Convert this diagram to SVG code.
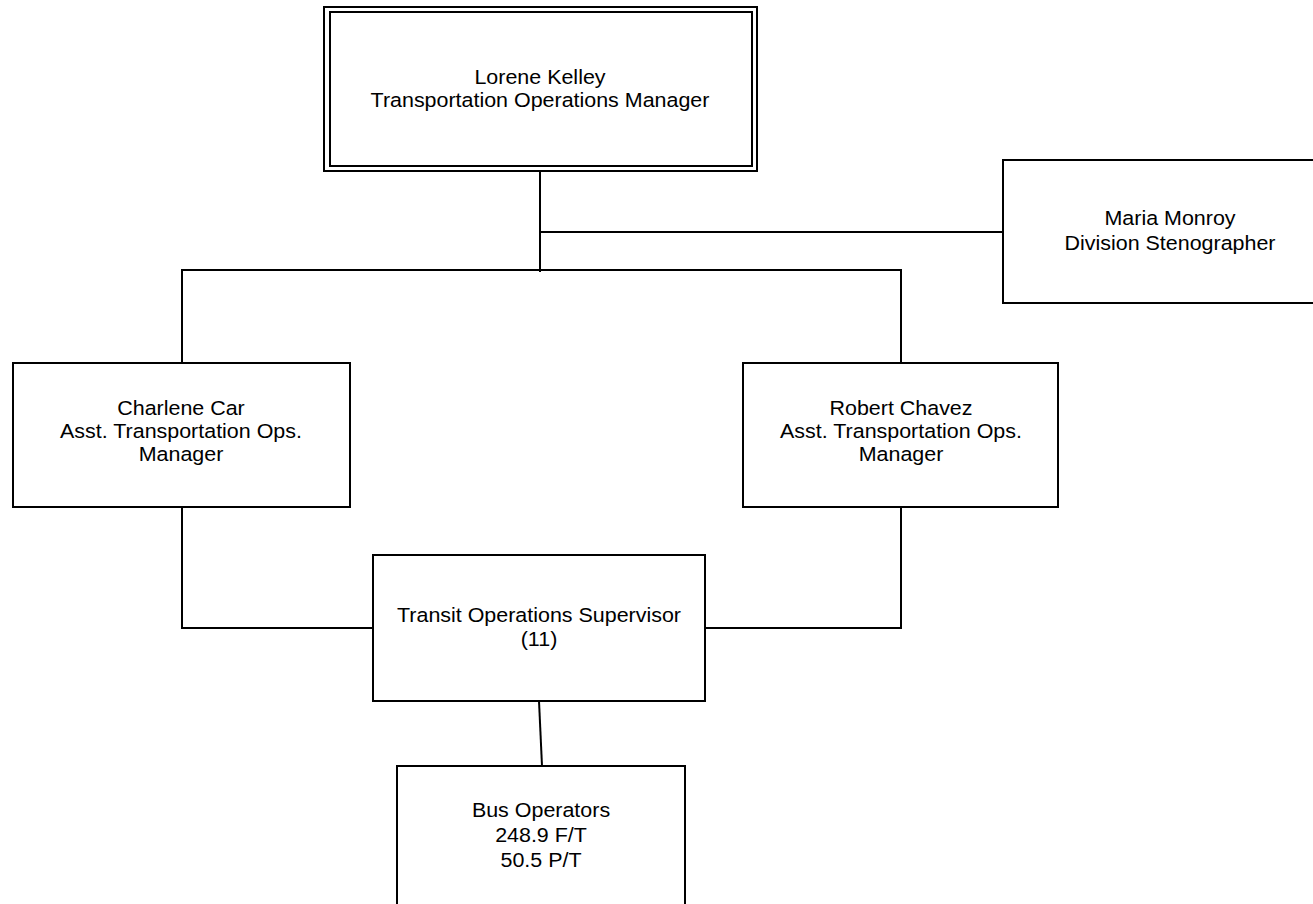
<svg xmlns="http://www.w3.org/2000/svg" width="1313" height="904" viewBox="0 0 1313 904">
<style>
.box{fill:#fff;stroke:#000;stroke-width:2}
.edge{fill:none;stroke:#000;stroke-width:2}
.t{font-family:"Liberation Sans",Arial,sans-serif;font-size:19.5px;fill:#000;text-anchor:middle}
</style>
<rect width="1313" height="904" fill="#fff"/>
<g id="connectors">
<path class="edge" d="M540,171 V272"/>
<path class="edge" d="M540,232 H1003"/>
<path class="edge" d="M182,363 V270 H901 V363"/>
<path class="edge" d="M182,507 V628 H373"/>
<path class="edge" d="M901,507 V628 H705"/>
<path class="edge" d="M539,701 L542,766"/>
</g>
<g id="lorene">
<rect class="box" x="324" y="7" width="433" height="164" stroke-width="1.6"/>
<rect class="box" x="330" y="12" width="422" height="154" stroke-width="1.6"/>
<g transform="translate(540,0) scale(1.1,1)"><text class="t" x="0" y="84">Lorene Kelley</text><text class="t" x="0" y="107">Transportation Operations Manager</text></g>
</g>
<g id="maria">
<rect class="box" x="1003" y="160" width="340" height="143"/>
<g transform="translate(1170,0) scale(1.1,1)"><text class="t" x="0" y="225">Maria Monroy</text><text class="t" x="0" y="250">Division Stenographer</text></g>
</g>
<g id="charlene">
<rect class="box" x="13" y="363" width="337" height="144"/>
<g transform="translate(181,0) scale(1.1,1)"><text class="t" x="0" y="415">Charlene Car</text><text class="t" x="0" y="438">Asst. Transportation Ops.</text><text class="t" x="0" y="461">Manager</text></g>
</g>
<g id="robert">
<rect class="box" x="743" y="363" width="315" height="144"/>
<g transform="translate(901,0) scale(1.1,1)"><text class="t" x="0" y="415">Robert Chavez</text><text class="t" x="0" y="438">Asst. Transportation Ops.</text><text class="t" x="0" y="461">Manager</text></g>
</g>
<g id="transit">
<rect class="box" x="373" y="555" width="332" height="146"/>
<g transform="translate(539,0) scale(1.1,1)"><text class="t" x="0" y="622">Transit Operations Supervisor</text><text class="t" x="0" y="646">(11)</text></g>
</g>
<g id="bus">
<rect class="box" x="397" y="766" width="288" height="160"/>
<g transform="translate(541,0) scale(1.1,1)"><text class="t" x="0" y="817">Bus Operators</text><text class="t" x="0" y="842">248.9 F/T</text><text class="t" x="0" y="867">50.5 P/T</text></g>
</g>
</svg>
